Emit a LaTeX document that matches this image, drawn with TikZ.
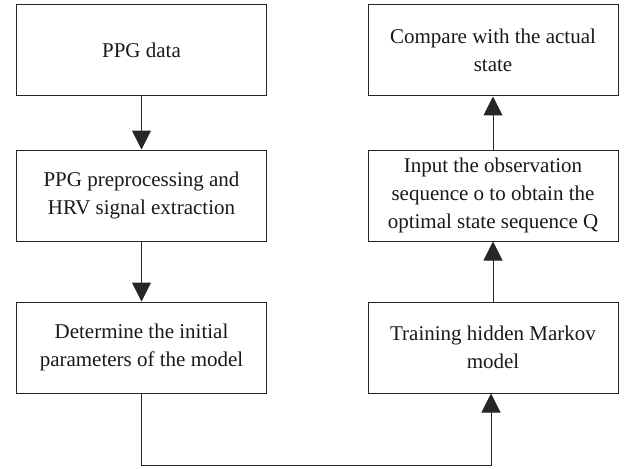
\documentclass[tikz,border=0pt]{standalone}
\usepackage{fontspec}
\setmainfont{Liberation Serif}
\usetikzlibrary{arrows.meta}
\begin{document}
\begin{tikzpicture}[x=1pt,y=-1pt,
  flowbox/.style={draw=black!85,line width=1pt,rectangle,minimum width=250pt,
    minimum height=91pt,align=center,inner sep=2pt,
    font=\fontsize{21}{28}\selectfont,text=black!90},
  flowarr/.style={draw=black!85,line width=1pt,-{Triangle[width=19pt,length=19pt]}}]
\useasboundingbox (0,0) rectangle (631,468);
% left column
\node[flowbox] (ppg)  at (141.5,50.5)  {PPG data};
\node[flowbox] (prep) at (141.5,195.5) {PPG preprocessing and\\HRV signal extraction};
\node[flowbox] (init) at (141.5,347.5) {Determine the initial\\parameters of the model};
% right column
\node[flowbox] (cmp)   at (493,50.5)  {Compare with the actual\\state};
\node[flowbox] (input) at (493,195.5) {Input the observation\\sequence o to obtain the\\optimal state sequence Q};
\node[flowbox] (train) at (493,347.5) {Training hidden Markov\\model};
% connectors
\coordinate (turn) at (491,465);
\draw[flowarr] (ppg) -- (prep);
\draw[flowarr] (prep) -- (init);
\draw[flowarr] (init.south) |- (turn) -- (train.south -| turn);
\draw[flowarr] (train) -- (input);
\draw[flowarr] (input) -- (cmp);
\end{tikzpicture}
\end{document}
